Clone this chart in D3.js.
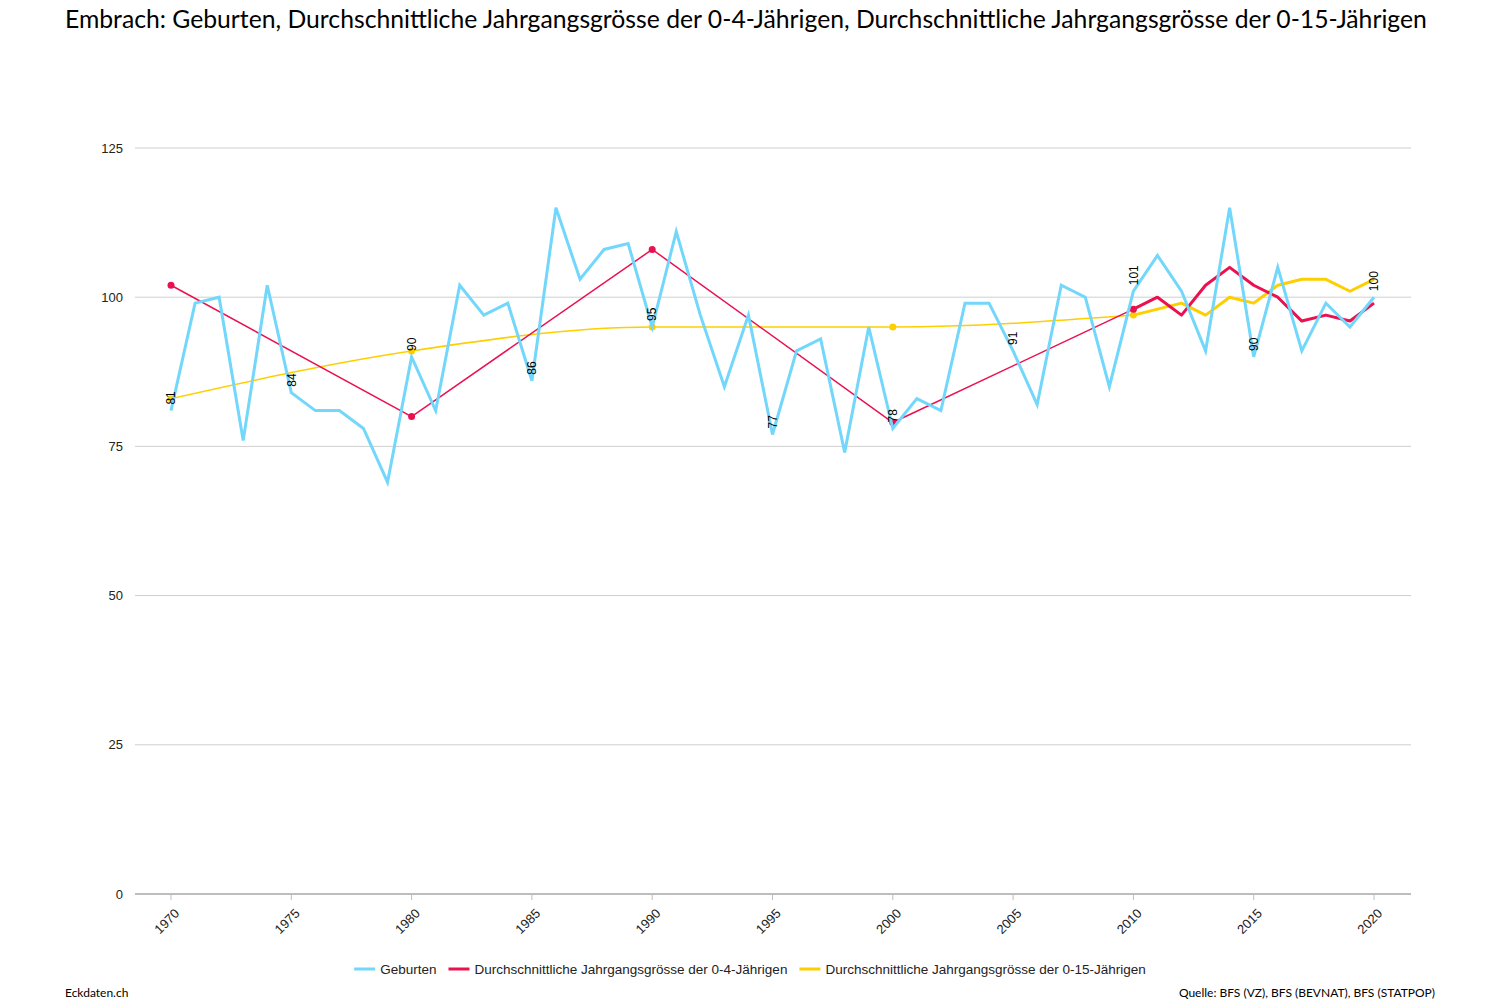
<!DOCTYPE html>
<html lang="de">
<head>
<meta charset="UTF-8">
<title>Embrach: Geburten und Jahrgangsgrösse</title>
<script src="https://cdnjs.cloudflare.com/ajax/libs/d3/7.8.5/d3.min.js"></script>
<style>
  body { margin: 0; background: #fff; }
  svg { display: block; font-family: "Liberation Sans", Arial, sans-serif; }
</style>
</head>
<body>
<div id="chart"></div>
<script>
// Geburten pro Jahr
const years = [1970,1971,1972,1973,1974,1975,1976,1977,1978,1979,
               1980,1981,1982,1983,1984,1985,1986,1987,1988,1989,
               1990,1991,1992,1993,1994,1995,1996,1997,1998,1999,
               2000,2001,2002,2003,2004,2005,2006,2007,2008,2009,
               2010,2011,2012,2013,2014,2015,2016,2017,2018,2019,2020];
const geburten = [81,99,100,76,102,84,81,81,78,69,
                  90,81,102,97,99,86,115,103,108,109,
                  95,111,97,85,97,77,91,93,74,95,
                  78,83,81,99,99,91,82,102,100,85,
                  101,107,101,91,115,90,105,91,99,95,100];
const labelYears = [1970,1975,1980,1985,1990,1995,2000,2005,2010,2015,2020];

// Durchschnittliche Jahrgangsgrösse der 0-4-Jährigen
const years04 = [1970,1980,1990,2000,2010,2011,2012,2013,2014,2015,2016,2017,2018,2019,2020];
const values04 = [102,80,108,79,98,100,97,102,105,102,100,96,97,96,99];

// Durchschnittliche Jahrgangsgrösse der 0-15-Jährigen
const years015 = [1970,1980,1990,2000,2010,2011,2012,2013,2014,2015,2016,2017,2018,2019,2020];
const values015 = [83,91,95,95,97,98,99,97,100,99,102,103,103,101,103];

const yTicks = [0,25,50,75,100,125];
const xTicks = [1970,1975,1980,1985,1990,1995,2000,2005,2010,2015,2020];

const seriesNames = ["Geburten",
  "Durchschnittliche Jahrgangsgrösse der 0-4-Jährigen",
  "Durchschnittliche Jahrgangsgrösse der 0-15-Jährigen"];
const colors = ["#72d7fb", "#ea1150", "#fecf00"];

const width = 1500, height = 1000;
const svg = d3.select("#chart").append("svg")
  .attr("width", width).attr("height", height);

const x = d3.scaleLinear().domain([1970, 2020]).range([171, 1374]);
const y = d3.scaleLinear().domain([0, 125]).range([894, 148]);
const gridLeft = 135, gridRight = 1411;

// title
const title = svg.append("text")
  .attr("x", 65).attr("y", 28)
  .attr("font-family", "Lato, 'Open Sans', sans-serif")
  .attr("font-size", 22)
  .attr("fill", "#000")
  .text("Embrach: " + seriesNames.join(", "));
const tw = title.node().getComputedTextLength();
title.attr("font-size", 22 * 1363 / tw);

// grid
svg.append("g").selectAll("line")
  .data(yTicks.filter(d => d > 0))
  .join("line")
  .attr("x1", gridLeft).attr("x2", gridRight)
  .attr("y1", d => y(d)).attr("y2", d => y(d))
  .attr("stroke", "#cfcfcf").attr("stroke-width", 1);

svg.append("g").selectAll("text")
  .data(yTicks)
  .join("text")
  .attr("x", 123).attr("y", d => y(d))
  .attr("dy", "0.35em")
  .attr("text-anchor", "end")
  .attr("font-size", 13)
  .attr("fill", "#222")
  .text(d => d);

// x axis
svg.append("line")
  .attr("x1", gridLeft).attr("x2", gridRight)
  .attr("y1", y(0)).attr("y2", y(0))
  .attr("stroke", "#bdbdbd").attr("stroke-width", 2);

const xg = svg.append("g");
xg.selectAll("line")
  .data(xTicks)
  .join("line")
  .attr("x1", d => x(d)).attr("x2", d => x(d))
  .attr("y1", y(0)).attr("y2", y(0) + 6)
  .attr("stroke", "#bdbdbd").attr("stroke-width", 1);
xg.selectAll("text")
  .data(xTicks)
  .join("text")
  .attr("transform", d => `translate(${x(d) + 6},${y(0) + 17}) rotate(-45)`)
  .attr("text-anchor", "end")
  .attr("dy", "0.35em")
  .attr("font-size", 13)
  .attr("fill", "#222")
  .text(d => d);

// lines
const plot = svg.append("g");

const data04 = years04.map((yr, i) => ({ year: yr, value: values04[i] }));
const data015 = years015.map((yr, i) => ({ year: yr, value: values015[i] }));
const dataGeb = years.map((yr, i) => ({ year: yr, value: geburten[i] }));

const lineLinear = d3.line().x(d => x(d.year)).y(d => y(d.value));
const lineSmooth = d3.line().x(d => x(d.year)).y(d => y(d.value)).curve(d3.curveMonotoneX);

// sparse (decade) parts, thin
plot.append("path")
  .datum(data015.filter(d => d.year <= 2010))
  .attr("d", lineSmooth)
  .attr("fill", "none").attr("stroke", colors[2]).attr("stroke-width", 1.5);
plot.append("path")
  .datum(data04.filter(d => d.year <= 2010))
  .attr("d", lineLinear)
  .attr("fill", "none").attr("stroke", colors[1]).attr("stroke-width", 1.5);

// annual parts, thick
plot.append("path")
  .datum(data015.filter(d => d.year >= 2010))
  .attr("d", lineLinear)
  .attr("fill", "none").attr("stroke", colors[2]).attr("stroke-width", 3)
  .attr("stroke-linejoin", "round");
plot.append("path")
  .datum(data04.filter(d => d.year >= 2010))
  .attr("d", lineLinear)
  .attr("fill", "none").attr("stroke", colors[1]).attr("stroke-width", 3)
  .attr("stroke-linejoin", "round");

// dots on sparse points
plot.append("g").selectAll("circle")
  .data(data015.filter(d => d.year <= 2010))
  .join("circle")
  .attr("cx", d => x(d.year)).attr("cy", d => y(d.value))
  .attr("r", 3.5).attr("fill", colors[2]);
plot.append("g").selectAll("circle")
  .data(data04.filter(d => d.year <= 2010))
  .join("circle")
  .attr("cx", d => x(d.year)).attr("cy", d => y(d.value))
  .attr("r", 3.5).attr("fill", colors[1]);

// Geburten
plot.append("path")
  .datum(dataGeb)
  .attr("d", lineLinear)
  .attr("fill", "none").attr("stroke", colors[0]).attr("stroke-width", 3);

// value labels
plot.append("g").selectAll("text")
  .data(dataGeb.filter(d => labelYears.includes(d.year)))
  .join("text")
  .attr("transform", d => `translate(${x(d.year)},${y(d.value) - 6}) rotate(-90)`)
  .attr("dy", "0.35em")
  .attr("font-size", 12)
  .attr("fill", "#000")
  .text(d => d.value);

// legend
const legend = svg.append("g");
let lx = 0;
seriesNames.forEach((name, i) => {
  const item = legend.append("g").attr("transform", `translate(${lx},0)`);
  item.append("line")
    .attr("x1", 0).attr("x2", 21).attr("y1", 0).attr("y2", 0)
    .attr("stroke", colors[i]).attr("stroke-width", 3);
  const t = item.append("text")
    .attr("x", 26).attr("dy", "0.35em")
    .attr("font-size", 13.5).attr("fill", "#222")
    .text(name);
  lx += 26 + t.node().getComputedTextLength() + 12;
});
const legendW = lx - 12;
legend.attr("transform", `translate(${750 - legendW / 2},969)`);

// footer
svg.append("text")
  .attr("x", 65).attr("y", 997)
  .attr("font-family", "Lato, 'Open Sans', sans-serif")
  .attr("font-size", 12).attr("fill", "#000")
  .text("Eckdaten.ch");
svg.append("text")
  .attr("x", 1435).attr("y", 997)
  .attr("text-anchor", "end")
  .attr("font-family", "Lato, 'Open Sans', sans-serif")
  .attr("font-size", 12).attr("fill", "#000")
  .text("Quelle: BFS (VZ), BFS (BEVNAT), BFS (STATPOP)");
</script>
</body>
</html>
